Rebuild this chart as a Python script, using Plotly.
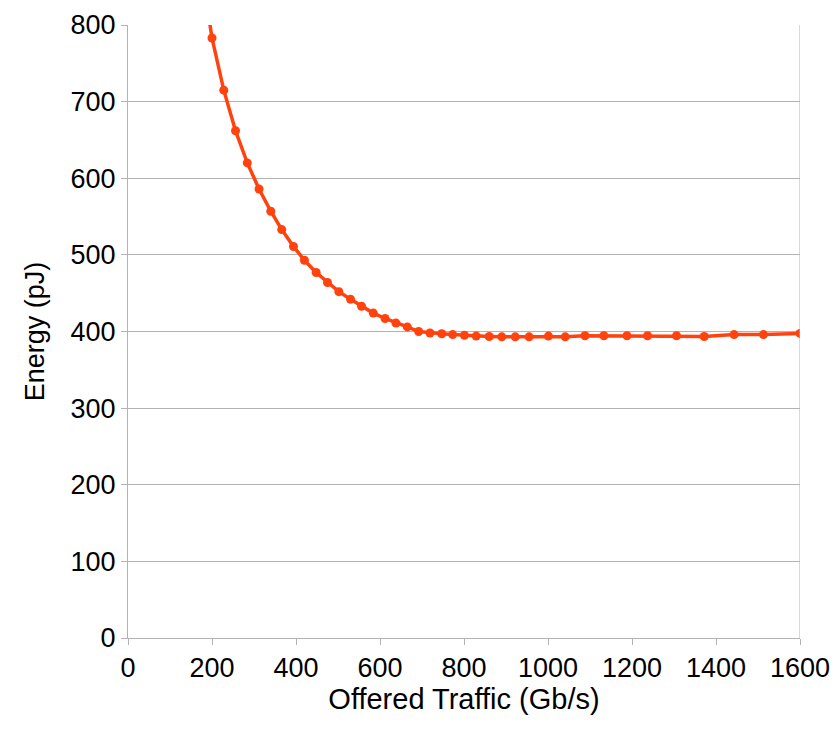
import plotly.graph_objects as go

traffic = [173, 200, 228, 256, 284, 312, 340, 366, 394, 420, 448, 475, 502, 530, 556, 584,
           612, 638, 665, 692, 719, 747, 773, 801, 829, 860, 890, 922, 955, 1001, 1041,
           1088, 1133, 1188, 1237, 1306, 1372, 1443, 1513, 1600]
energy = [880, 783, 715, 662, 620, 586, 557, 533, 511, 493, 477, 464, 452, 442, 433, 424,
          417, 411, 406, 400, 398, 397, 396, 395, 394, 393.5, 393, 393, 393, 394, 393,
          394.4, 394.4, 394.4, 394.4, 394.4, 393.5, 396, 396, 397.5]

x_ticks = [0, 200, 400, 600, 800, 1000, 1200, 1400, 1600]
y_ticks = [0, 100, 200, 300, 400, 500, 600, 700, 800]

color = "#FF420E"
font = "Liberation Sans, Arial, sans-serif"

fig = go.Figure()
fig.add_trace(go.Scatter(
    x=traffic, y=energy, mode="lines+markers",
    line=dict(color=color, width=3.5),
    marker=dict(color=color, size=9),
    cliponaxis=True, showlegend=False,
))

fig.update_layout(
    width=835, height=740,
    margin=dict(l=128, r=35, t=25, b=102),
    paper_bgcolor="white", plot_bgcolor="white",
    font=dict(family=font, size=26, color="#000000"),
)
fig.update_xaxes(
    range=[0, 1600], tickvals=x_ticks, ticktext=[str(v) for v in x_ticks],
    showgrid=False, zeroline=False, automargin=False,
    showline=True, linecolor="#b3b3b3", linewidth=1, mirror=False,
    ticks="outside", ticklen=6, tickcolor="#b3b3b3",
    tickfont=dict(size=27),
    title=dict(text="Offered Traffic (Gb/s)", font=dict(size=29), standoff=4),
)
fig.update_yaxes(
    range=[0, 800], tickvals=y_ticks, ticktext=[str(v) for v in y_ticks],
    showgrid=True, gridcolor="#b3b3b3", gridwidth=1, zeroline=False, automargin=False,
    showline=True, linecolor="#b3b3b3", linewidth=1,
    ticks="outside", ticklen=6, tickcolor="#b3b3b3",
    tickfont=dict(size=27),
    title=dict(text="Energy (pJ)", font=dict(size=27), standoff=18),
)
# right border line at x=1600
fig.add_shape(type="line", xref="x", yref="paper", x0=1600, x1=1600, y0=0, y1=1,
              line=dict(color="#b3b3b3", width=1))

fig.write_html("out.html")
